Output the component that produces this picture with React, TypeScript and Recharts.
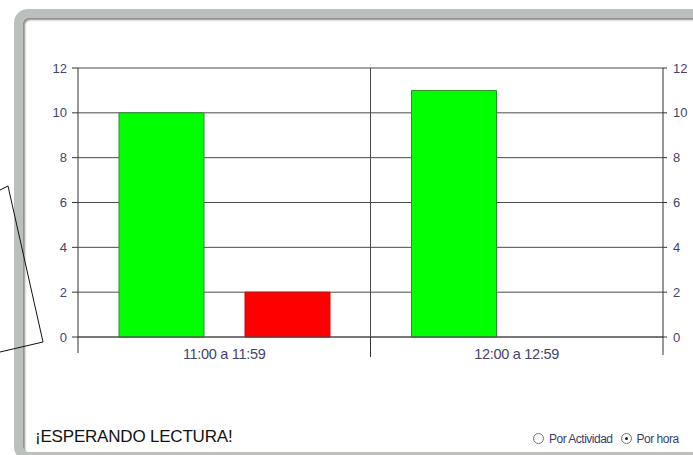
import { ComposedChart, Bar, Line, XAxis, YAxis, CartesianGrid } from 'recharts';

const categories = ['11:00 a 11:59', '12:00 a 12:59'];
const lecturasOk = [10, 11];
const lecturasError = [2, 0];
const yTicks = [0, 2, 4, 6, 8, 10, 12];

const data = categories.map((name, i) => ({
  name,
  ok: lecturasOk[i],
  error: lecturasError[i],
}));

const FONT = '"Liberation Sans", Arial, sans-serif';
const TEXT_COLOR = '#44446a';

// tick of the category axis: label plus the short marks at the band edges
const CategoryTick = (props: any) => {
  const { x, y, payload, index, visibleTicksCount } = props;
  const half = payload.offset ?? 0;
  return (
    <g>
      {index === 0 && <line x1={x - half} x2={x - half} y1={y} y2={y + 16} stroke="#333" />}
      <line x1={x + half} x2={x + half} y1={y} y2={y + (index === visibleTicksCount - 1 ? 18 : 20)} stroke="#333" />
      <text x={x} y={y + 22} textAnchor="middle" fill={TEXT_COLOR} fontSize={14.5} letterSpacing={-0.3} fontFamily={FONT}>
        {payload.value}
      </text>
    </g>
  );
};

const Radio = ({ checked }: { checked: boolean }) => (
  <span
    style={{
      display: 'inline-block',
      width: 9,
      height: 9,
      borderRadius: '50%',
      border: '1px solid #777',
      background: '#fff',
      position: 'relative',
      marginRight: 5,
      verticalAlign: -1,
    }}
  >
    {checked && (
      <span
        style={{
          position: 'absolute',
          left: 3,
          top: 3,
          width: 3,
          height: 3,
          borderRadius: '50%',
          background: '#222',
        }}
      />
    )}
  </span>
);

export default function App() {
  return (
    <div
      style={{
        position: 'absolute',
        left: 0,
        top: 0,
        width: 693,
        height: 455,
        overflow: 'hidden',
        background: '#fff',
        fontFamily: FONT,
      }}
    >
      {/* window frame */}
      <div
        style={{
          position: 'absolute',
          left: 14,
          top: 9,
          width: 720,
          height: 452,
          border: '9px solid #bcc0bc',
          borderRadius: 14,
          boxShadow: 'inset 2px 2px 2px #8c8f8c',
          boxSizing: 'border-box',
          background: '#fff',
        }}
      />
      <div style={{ position: 'absolute', left: 0, top: 0 }}>
        <ComposedChart
          width={693}
          height={455}
          data={data}
          margin={{ top: 68, right: 0, bottom: 88, left: 38 }}
          barSize={85}
          barGap={41}
        >
          <CartesianGrid
            yAxisId="left"
            stroke="#4a4a4a"
            verticalCoordinatesGenerator={({ offset }: any) => [offset.left + offset.width / 2]}
          />
          <XAxis
            dataKey="name"
            height={30}
            tickSize={0}
            tickMargin={0}
            axisLine={{ stroke: '#4a4a4a' }}
            tickLine={false}
            tick={<CategoryTick />}
            interval={0}
          />
          <YAxis
            yAxisId="left"
            orientation="left"
            width={40}
            domain={[0, 12]}
            ticks={yTicks}
            interval={0}
            tickSize={6}
            tickMargin={5}
            axisLine={{ stroke: '#333' }}
            tickLine={{ stroke: '#333' }}
            tick={{ fill: TEXT_COLOR, fontSize: 13, fontFamily: FONT }}
          />
          <YAxis
            yAxisId="right"
            orientation="right"
            width={30}
            domain={[0, 12]}
            ticks={yTicks}
            interval={0}
            tickSize={4}
            tickMargin={6}
            axisLine={{ stroke: '#333' }}
            tickLine={{ stroke: '#333' }}
            tick={{ fill: TEXT_COLOR, fontSize: 13, fontFamily: FONT }}
          />
          <Bar yAxisId="left" dataKey="ok" fill="#00ff00" stroke="#2e8b2e" isAnimationActive={false} />
          <Bar yAxisId="left" dataKey="error" fill="#ff0000" stroke="#d40000" isAnimationActive={false} />
          {/* invisible series so the right axis is drawn */}
          <Line
            yAxisId="right"
            dataKey="ok"
            stroke="none"
            dot={false}
            activeDot={false}
            legendType="none"
            isAnimationActive={false}
          />
        </ComposedChart>
      </div>
      {/* callout outline on the left */}
      <svg width={60} height={400} style={{ position: 'absolute', left: 0, top: 0 }}>
        <polyline points="0,190 8,186 43,342 0,352" fill="none" stroke="#111" strokeWidth={1} />
      </svg>
      <div
        style={{
          position: 'absolute',
          left: 35,
          top: 427,
          fontSize: 17,
          color: '#111',
          letterSpacing: -0.2,
          whiteSpace: 'nowrap',
        }}
      >
        ¡ESPERANDO LECTURA!
      </div>
      <div
        style={{
          position: 'absolute',
          left: 533,
          top: 432,
          fontSize: 12,
          color: '#3c3c6a',
          letterSpacing: -0.5,
          whiteSpace: 'nowrap',
        }}
      >
        <Radio checked={false} />
        Por Actividad
        <span style={{ display: 'inline-block', width: 8 }} />
        <Radio checked />
        Por hora
      </div>
    </div>
  );
}
